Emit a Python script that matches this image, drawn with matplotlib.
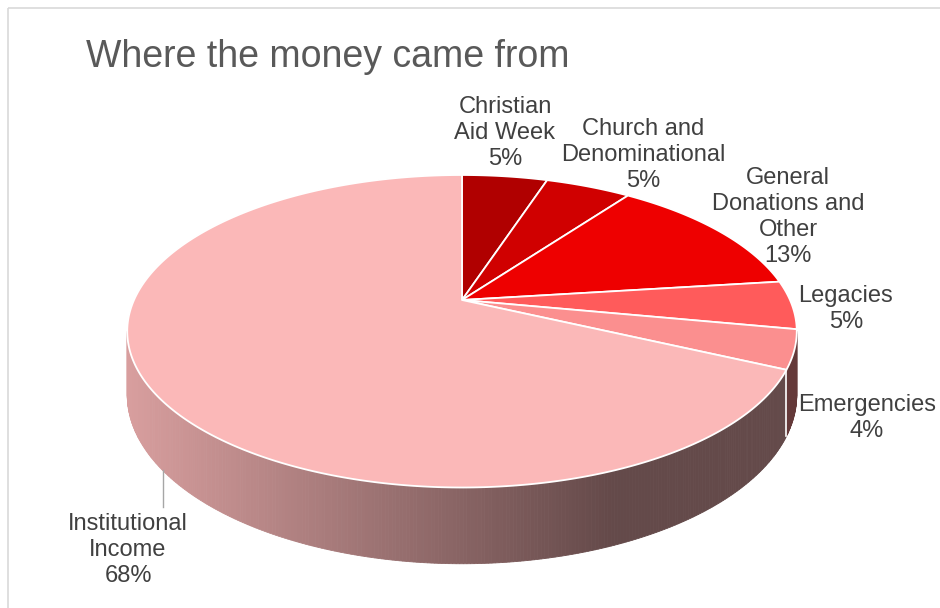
"""3D-look pie: where the money came from."""

import numpy as np
import matplotlib.pyplot as plt
from matplotlib.patches import Polygon, Rectangle
from matplotlib.colors import to_rgb

plt.rcParams['font.family'] = ['Liberation Sans', 'DejaVu Sans']

# Data
categories = ["Christian\nAid Week", "Church and\nDenominational",
              "General\nDonations and\nOther", "Legacies", "Emergencies",
              "Institutional\nIncome"]
shares = [5, 5, 13, 5, 4, 68]
colors = ['#b00000', '#d00000', '#ee0000', '#ff5b5b', '#fb8f8f', '#fbb8b8']

# Layout (pixel space)
label_xy = [(505, 133), (643, 155), (788, 217), (846, 309), (867, 418), (128, 550)]
cx, cy = 462, 300          # pie centre on the top face
a, b, k = 328, 150, 0.2    # half axes and perspective strength
depth = 61                 # thickness of the disc

fig = plt.figure(figsize=(9.4, 6.08), dpi=100)
ax = fig.add_axes([0, 0, 1, 1])
ax.set_xlim(0, 940)
ax.set_ylim(608, 0)
ax.axis('off')


def project(t, z=0.0):
    # t: angle clockwise from 12 o'clock, z: 0 top face, 1 bottom face
    u = np.sin(t)
    v = np.cos(t)
    s = 1 / (1 + k * v)
    return cx + a * u * s, cy - b * v * s + depth * z * s


def shade(color, x):
    f = np.clip(0.86 - (x - 128) / (610 - 128) * 0.46, 0.40, 0.86)
    return tuple(c * f for c in to_rgb(color))


fracs = np.array(shares) / sum(shares)
edges = np.concatenate([[0], np.cumsum(fracs)]) * 2 * np.pi

# side wall, only the part that faces the viewer
t_vis0 = np.arccos(-k)
t_vis1 = 2 * np.pi - t_vis0
for i, col in enumerate(colors):
    t0 = max(edges[i], t_vis0)
    t1 = min(edges[i + 1], t_vis1)
    if t1 <= t0:
        continue
    n = max(2, int(np.degrees(t1 - t0) * 2))
    ts = np.linspace(t0, t1, n + 1)
    for ta, tb in zip(ts[:-1], ts[1:]):
        xa, ya = project(ta)
        xb, yb = project(tb)
        xa2, ya2 = project(ta, 1)
        xb2, yb2 = project(tb, 1)
        c = shade(col, (xa + xb) / 2)
        ax.add_patch(Polygon([(xa, ya), (xb, yb), (xb2, yb2), (xa2, ya2)],
                             closed=True, fc=c, ec=c, lw=0.6, zorder=1))

for t in edges[1:-1]:
    if t_vis0 < t < t_vis1:
        x0, y0 = project(t)
        x1, y1 = project(t, 1)
        ax.plot([x0, x1], [y0, y1], color='white', lw=1.2, zorder=1.5)

# top face
for i, col in enumerate(colors):
    n = max(3, int(np.degrees(edges[i + 1] - edges[i]) * 2))
    ts = np.linspace(edges[i], edges[i + 1], n)
    xs, ys = project(ts)
    pts = [(cx, cy)] + list(zip(xs, ys))
    ax.add_patch(Polygon(pts, closed=True, fc=col, ec='white', lw=1.3,
                         joinstyle='round', zorder=2))

# labels
for cat, share, (lx, ly) in zip(categories, shares, label_xy):
    ax.text(lx, ly, f"{cat}\n{share}%", ha='center', va='center',
            fontsize=17, color='#404040', linespacing=1.22, zorder=3)

# leader line for the big slice
ax.plot([163, 163], [470, 507], color='#a6a6a6', lw=1, zorder=3)

ax.text(86, 67, "Where the money came from", fontsize=27, color='#595959',
        va='baseline', ha='left')

ax.add_patch(Rectangle((8, 8), 960, 640, fill=False, ec='#d9d9d9', lw=1.2))

fig.savefig('out.png', dpi=100)
